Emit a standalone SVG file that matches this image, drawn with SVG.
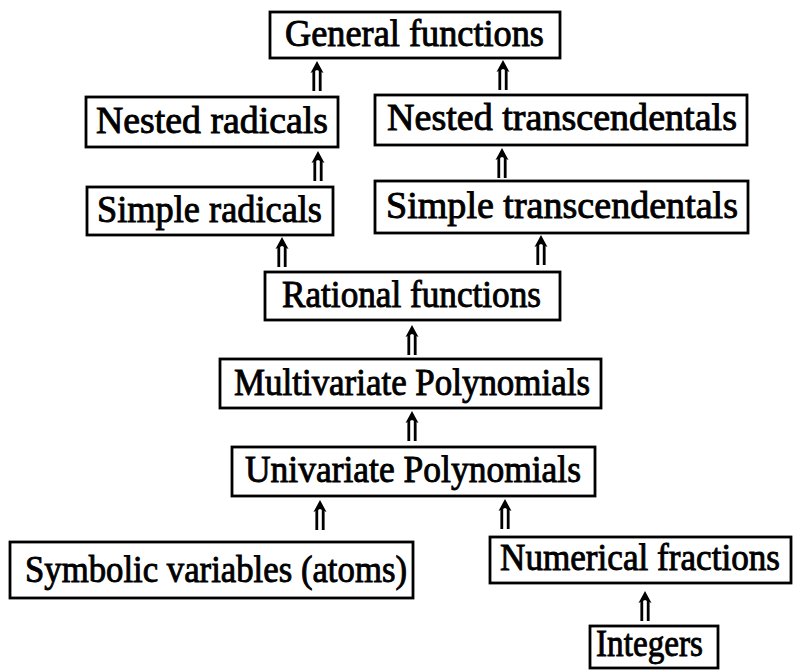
<svg xmlns="http://www.w3.org/2000/svg" xmlns:xlink="http://www.w3.org/1999/xlink" width="795" height="671" viewBox="0 0 795 671">
<style>
  .box { fill: #fff; stroke: #000; stroke-width: 2.8; }
  .lbl { font-family: "Liberation Serif", "DejaVu Serif", serif; font-size: 37px; fill: #000; stroke: #000; stroke-width: 0.9; }
  .shaft { stroke: #000; stroke-width: 2.8; fill: none; }
  .head { fill: #000; }
</style>
<defs>
  <g id="darr">
    <path class="shaft" d="M -3.2 30 V 9 M 3.2 30 V 9"/>
    <path class="head" d="M 0 0 L -6.5 12 L 0 9 L 6.5 12 Z"/>
  </g>
</defs>
<rect width="795" height="671" fill="#fff"/>
<g id="connectors">
  <use xlink:href="#darr" x="317" y="61"/>
  <use xlink:href="#darr" x="503" y="60"/>
  <use xlink:href="#darr" x="318" y="151"/>
  <use xlink:href="#darr" x="502" y="148"/>
  <use xlink:href="#darr" x="282" y="237"/>
  <use xlink:href="#darr" x="541" y="235"/>
  <use xlink:href="#darr" x="412" y="325"/>
  <use xlink:href="#darr" x="412" y="411"/>
  <use xlink:href="#darr" x="320" y="500"/>
  <use xlink:href="#darr" x="505" y="499"/>
  <use xlink:href="#darr" x="645" y="591"/>
</g>
<g id="general">
  <rect class="box" x="270" y="12" width="290" height="46"/>
  <text class="lbl" x="285" y="46" textLength="259" lengthAdjust="spacingAndGlyphs">General functions</text>
</g>
<g id="nested-radicals">
  <rect class="box" x="86" y="97" width="252" height="50"/>
  <text class="lbl" x="96" y="133" textLength="232" lengthAdjust="spacingAndGlyphs">Nested radicals</text>
</g>
<g id="nested-transcendentals">
  <rect class="box" x="375" y="95" width="372" height="50"/>
  <text class="lbl" x="387" y="130" textLength="350" lengthAdjust="spacingAndGlyphs">Nested transcendentals</text>
</g>
<g id="simple-radicals">
  <rect class="box" x="87" y="187" width="246" height="48"/>
  <text class="lbl" x="97" y="222" textLength="225" lengthAdjust="spacingAndGlyphs">Simple radicals</text>
</g>
<g id="simple-transcendentals">
  <rect class="box" x="375" y="181" width="373" height="52"/>
  <text class="lbl" x="386" y="218" textLength="352" lengthAdjust="spacingAndGlyphs">Simple transcendentals</text>
</g>
<g id="rational">
  <rect class="box" x="265" y="272" width="295" height="48"/>
  <text class="lbl" x="282" y="307" textLength="259" lengthAdjust="spacingAndGlyphs">Rational functions</text>
</g>
<g id="multivariate">
  <rect class="box" x="220" y="359" width="381" height="49"/>
  <text class="lbl" x="234" y="395" textLength="356" lengthAdjust="spacingAndGlyphs">Multivariate Polynomials</text>
</g>
<g id="univariate">
  <rect class="box" x="232" y="447" width="363" height="49"/>
  <text class="lbl" x="245" y="482" textLength="336" lengthAdjust="spacingAndGlyphs">Univariate Polynomials</text>
</g>
<g id="symbolic">
  <rect class="box" x="10" y="542" width="403" height="56"/>
  <text class="lbl" x="25" y="582" textLength="382" lengthAdjust="spacingAndGlyphs">Symbolic variables (atoms)</text>
</g>
<g id="numerical">
  <rect class="box" x="490" y="537" width="301" height="46"/>
  <text class="lbl" x="500" y="570" textLength="280" lengthAdjust="spacingAndGlyphs">Numerical fractions</text>
</g>
<g id="integers">
  <rect class="box" x="590" y="626" width="128" height="42"/>
  <text class="lbl" x="596" y="656" textLength="107" lengthAdjust="spacingAndGlyphs">Integers</text>
</g>
</svg>
